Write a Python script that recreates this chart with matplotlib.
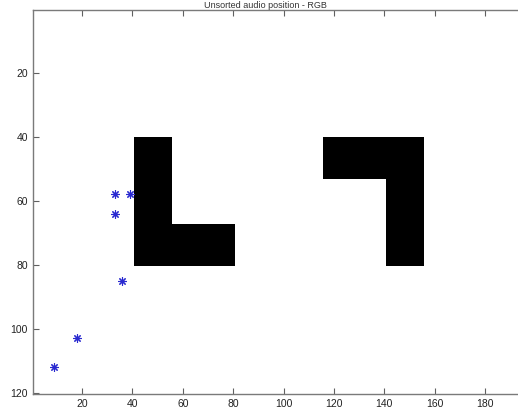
import numpy as np
import matplotlib
matplotlib.use("Agg")
import matplotlib.pyplot as plt

plt.rcParams['font.family'] = ['Liberation Sans', 'DejaVu Sans']

# Binary scene: 120 rows x 200 columns, white background with two black blocks
n_rows, n_cols = 120, 200
# Filled regions as (row_start, row_end, col_start, col_end), 1-based inclusive
l_shape = [(41, 80, 41, 55), (68, 80, 41, 80)]
hook_shape = [(41, 53, 116, 155), (41, 80, 141, 155)]

# Detected positions (x = column, y = row)
pts_x = [33, 39, 33, 36, 18, 9]
pts_y = [58, 58, 64, 85, 103, 112]

x_ticks = [20, 40, 60, 80, 100, 120, 140, 160, 180]
y_ticks = [20, 40, 60, 80, 100, 120]
title_text = "Unsorted audio position - RGB"

img = np.ones((n_rows, n_cols))
for r0, r1, c0, c1 in l_shape + hook_shape:
    img[r0 - 1:r1, c0 - 1:c1] = 0.0

fig = plt.figure(figsize=(5.18, 4.17), dpi=100)
ax = fig.add_axes([0.0635, 0.0544, 0.9726, 0.9209])
ax.imshow(img, cmap='gray', vmin=0, vmax=1, interpolation='nearest',
          extent=(0.5, n_cols + 0.5, n_rows + 0.5, 0.5), aspect='auto')
# asterisk markers: 8 spokes from the centre
ax.plot(pts_x, pts_y, linestyle='none', marker=(8, 2, 0), markersize=6,
        color='#2a2ad0', markeredgewidth=0.8)

ax.set_xlim(0.5, n_cols + 0.5)
ax.set_ylim(n_rows + 0.5, 0.5)
ax.set_xticks(x_ticks)
ax.set_yticks(y_ticks)
ax.tick_params(direction='in', length=4, width=0.8, colors='#606060',
               labelcolor='#222222', labelsize=7.5, top=True, right=True)
for side in ['left', 'bottom', 'top']:
    ax.spines[side].set_color('#7a7a7a')
    ax.spines[side].set_linewidth(1.0)
ax.spines['right'].set_visible(False)

fig.text(265 / 518, 1 - 0.5 / 417, title_text, ha='center', va='top',
         fontsize=6.5, color='#333333')

fig.savefig('out.png', dpi=100)
